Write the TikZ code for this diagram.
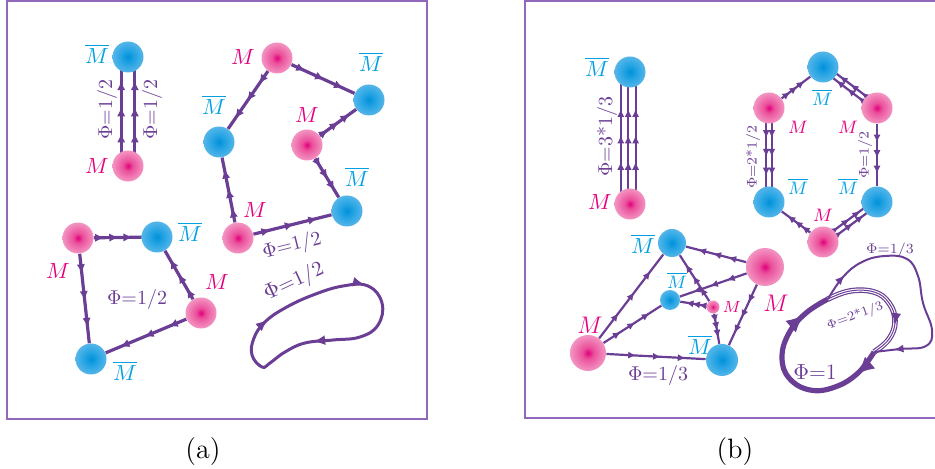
\documentclass[tikz,border=0pt]{standalone}
\usepackage{fontspec}
\usetikzlibrary{calc,arrows.meta,decorations.markings}

\definecolor{fluxc}{RGB}{106,62,148}
\definecolor{framec}{RGB}{146,104,188}
\definecolor{mcol}{RGB}{228,0,126}
\definecolor{mbcol}{RGB}{0,160,227}
\definecolor{pinkA}{RGB}{225,0,125}
\definecolor{pinkB}{RGB}{235,80,155}
\definecolor{pinkC}{RGB}{242,145,192}
\definecolor{pinkD}{RGB}{250,212,231}
\definecolor{blueA}{RGB}{0,145,218}
\definecolor{blueB}{RGB}{40,165,228}
\definecolor{blueC}{RGB}{110,190,235}
\definecolor{blueD}{RGB}{205,232,248}

\pgfdeclareradialshading{pinkball}{\pgfpoint{0bp}{0bp}}{color(0bp)=(pinkA); color(8bp)=(pinkB); color(24bp)=(pinkC); color(50bp)=(pinkD)}
\pgfdeclareradialshading{blueball}{\pgfpoint{0bp}{0bp}}{color(0bp)=(blueA); color(12bp)=(blueB); color(32bp)=(blueC); color(50bp)=(blueD)}

\pgfdeclarelayer{background}
\pgfsetlayers{background,main}

\tikzset{
  mball/.style={circle, inner sep=0pt, minimum size=#1, shading=pinkball},
  mball/.default=15.5pt,
  mbball/.style={circle, inner sep=0pt, minimum size=#1, shading=blueball},
  mbball/.default=15.5pt,
  mlab/.style={text=mcol, inner sep=0pt, font=\fontsize{#1}{#1}\selectfont},
  mlab/.default=11,
  mblab/.style={text=mbcol, inner sep=0pt, font=\fontsize{#1}{#1}\selectfont},
  mblab/.default=11,
  philab/.style={text=fluxc, inner sep=0pt, font=\fontsize{#1}{#1}\selectfont},
  philab/.default=10,
  caption/.style={font=\fontsize{14}{16}\selectfont},
  arrowat/.style={postaction={decorate, decoration={markings, mark=at position #1 with {\arrow{>}}}}},
  % strings of panel (a)
  fluxa/.style={draw=fluxc, line width=1.6pt, >={Latex[length=4.6pt,width=4.2pt]}, arrowat/.list={0.22,0.52,0.82}},
  fluxac/.style={draw=fluxc, line width=1.6pt, >={Latex[length=4.6pt,width=4.2pt]}, arrowat/.list={0.3,0.54,0.78}},
  % strings of panel (b)
  fluxb/.style={draw=fluxc, line width=1.1pt, >={Latex[length=4pt,width=3.6pt]}, arrowat/.list={0.3,0.55,0.8}},
  fluxbc/.style={draw=fluxc, line width=1.1pt, >={Latex[length=4pt,width=3.6pt]}, arrowat/.list={0.32,0.52,0.72}},
  % closed loops
  loopa/.style={draw=fluxc, line width=1.5pt, >={Latex[length=6pt,width=5pt]}, arrowat/.list={0.12,0.43,0.78}},
  loopthick/.style={draw=fluxc, line width=2.6pt, >={Latex[length=9pt,width=8pt]}, arrowat/.list={0.14,0.86}},
  loopthin/.style={draw=fluxc, line width=1pt, >={Latex[length=5pt,width=4pt]}, arrowat/.list={0.12,0.92}},
  looptriple/.style={draw=fluxc, line width=2.8pt, postaction={draw=white, line width=1.6pt},
    postaction={draw=fluxc, line width=0.5pt}, >={Latex[length=6pt,width=5pt]}, arrowat=0.72},
}

\begin{document}
\begin{tikzpicture}[x=0.5pt, y=-0.5pt]
\useasboundingbox (0,0) rectangle (935,469);

% panel frames and captions
\draw[framec, line width=0.9pt] (7,1) rectangle (427,419);
\draw[framec, line width=0.9pt] (525,1) rectangle (945,418);
\node[caption] (capa) at (203,452) {(a)};
\node[caption] (capb) at (735,452) {(b)};

% ===== panel (a) =====
% pair with two strings
\node[mbball] (a1mb) at (128,57) {};
\node[mball] (a1m) at (128,166) {};
\node[mblab] (a1mbl) at (97,54) {$\overline{M}$};
\node[mlab] (a1ml) at (97,166) {$M$};
\begin{pgfonlayer}{background}
  \foreach \dx in {-3.4pt,3.4pt}
    \draw[fluxac] ([xshift=\dx]a1m.center) -- ([xshift=\dx]a1mb.center);
\end{pgfonlayer}
\node[philab, rotate=90] (a1phi1) at (107,110) {$\Phi$=1/2};
\node[philab, rotate=90] (a1phi2) at (152,110) {$\Phi$=1/2};

% ring of six
\node[mball] (a2m1) at (277,58) {};
\node[mbball] (a2mb1) at (369,100) {};
\node[mbball] (a2mb2) at (219,142) {};
\node[mball] (a2m2) at (307,145) {};
\node[mbball] (a2mb3) at (347,211) {};
\node[mball] (a2m3) at (238,238) {};
\node[mlab] (a2m1l) at (243,57) {$M$};
\node[mblab] (a2mb1l) at (371,62) {$\overline{M}$};
\node[mblab] (a2mb2l) at (214,105) {$\overline{M}$};
\node[mlab] (a2m2l) at (307,115) {$M$};
\node[mblab] (a2mb3l) at (357,177) {$\overline{M}$};
\node[mlab] (a2m3l) at (255,210) {$M$};
\draw[fluxa] (a2m1) -- (a2mb1);
\draw[fluxa] (a2m1) -- (a2mb2);
\draw[fluxa] (a2m2) -- (a2mb1);
\draw[fluxa] (a2m2) -- (a2mb3);
\draw[fluxa] (a2m3) -- (a2mb2);
\draw[fluxa] (a2m3) -- (a2mb3);
\node[philab, rotate=14] (a2phi) at (292,246) {$\Phi$=1/2};

% ring of four
\node[mball] (a3m1) at (78,238) {};
\node[mbball] (a3mb1) at (157,237) {};
\node[mball] (a3m2) at (201,313) {};
\node[mbball] (a3mb2) at (91,359) {};
\node[mlab] (a3m1l) at (58,271) {$M$};
\node[mblab] (a3mb1l) at (190,232) {$\overline{M}$};
\node[mlab] (a3m2l) at (217,282) {$M$};
\node[mblab] (a3mb2l) at (125,371) {$\overline{M}$};
\draw[fluxa] (a3m1) -- (a3mb1);
\draw[fluxa] (a3m1) -- (a3mb2);
\draw[fluxa] (a3m2) -- (a3mb1);
\draw[fluxa] (a3m2) -- (a3mb2);
\node[philab] (a3phi) at (137,300) {$\Phi$=1/2};

% closed loop
\draw[loopa] plot[smooth cycle, tension=0.7] coordinates {(262,367) (252,355) (254,338) (265,322) (285,308) (313,295) (343,286) (368,286) (382,303) (378,325) (360,337) (333,340) (305,343) (285,352) (270,363)};
\node[philab=10.5, rotate=25] (a4phi) at (294,282) {$\Phi$=1/2};

% ===== panel (b) =====
% pair with three strings
\node[mbball] (b1mb) at (630,72) {};
\node[mball] (b1m) at (630,204) {};
\node[mblab=10.5] (b1mbl) at (597,67) {$\overline{M}$};
\node[mlab=10.5] (b1ml) at (600,202) {$M$};
\begin{pgfonlayer}{background}
  \foreach \dx in {-4.6pt,-0.9pt,2.8pt}
    \draw[fluxbc] ([xshift=\dx]b1m.center) -- ([xshift=\dx]b1mb.center);
\end{pgfonlayer}
\node[philab, rotate=90] (b1phi) at (607,137) {$\Phi$=3*1/3};

% hexagon
\node[mbball] (b2mb1) at (823,67) {};
\node[mball] (b2m1) at (769,108) {};
\node[mball] (b2m2) at (877,108) {};
\node[mbball] (b2mb2) at (769,202) {};
\node[mbball] (b2mb3) at (877,202) {};
\node[mball] (b2m3) at (823,242) {};
\node[mblab=9.5] (b2mb1l) at (822,97) {$\overline{M}$};
\node[mlab=9.5] (b2m1l) at (798,127) {$M$};
\node[mlab=9.5] (b2m2l) at (848,127) {$M$};
\node[mblab=9.5] (b2mb2l) at (798,186) {$\overline{M}$};
\node[mblab=9.5] (b2mb3l) at (848,186) {$\overline{M}$};
\node[mlab=9.5] (b2m3l) at (823,215) {$M$};
\draw[fluxb] (b2m1) -- (b2mb1);
\draw[fluxb] (b2m2) -- (b2mb3);
\draw[fluxb] (b2m3) -- (b2mb2);
\begin{pgfonlayer}{background}
  \foreach \s in {-1.4pt,1.4pt} {
    \draw[fluxbc] ($(b2m2)!\s!90:(b2mb1)$) -- ($(b2mb1)!\s!-90:(b2m2)$);
    \draw[fluxbc] ($(b2m3)!\s!90:(b2mb3)$) -- ($(b2mb3)!\s!-90:(b2m3)$);
    \draw[fluxbc] ([xshift=\s]b2m1.center) -- ([xshift=\s]b2mb2.center);
  }
\end{pgfonlayer}
\node[philab=7, rotate=90] (b2phi1) at (753,157) {$\Phi$=2*1/2};
\node[philab=7, rotate=90] (b2phi2) at (865,155) {$\Phi$=1/2};

% cluster of six
\node[mbball=14pt] (b3mb1) at (672,243) {};
\node[mbball=10pt] (b3mb2) at (670,300) {};
\node[mball=6.5pt] (b3ms) at (713,307) {};
\node[mball=18pt] (b3m1) at (588,353) {};
\node[mbball=16pt] (b3mb3) at (722,360) {};
\node[mball=19pt] (b3m2) at (765,267) {};
\node[mblab=10.5] (b3mb1l) at (643,244) {$\overline{M}$};
\node[mblab=9] (b3mb2l) at (677,280) {$\overline{M}$};
\node[mlab=8] (b3msl) at (732,307) {$M$};
\node[mlab=12.5] (b3m1l) at (590,325) {$M$};
\node[mblab=10.5] (b3mb3l) at (700,345) {$\overline{M}$};
\node[mlab=12.5] (b3m2l) at (776,303) {$M$};
\draw[fluxb] (b3m1) -- (b3mb1);
\draw[fluxb] (b3m1) -- (b3mb2);
\draw[fluxb] (b3m1) -- (b3mb3);
\draw[fluxb] (b3m2) -- (b3mb1);
\draw[fluxb] (b3m2) -- (b3mb2);
\draw[fluxb] (b3m2) -- (b3mb3);
\draw[fluxb] (b3ms) -- (b3mb1);
\draw[fluxb] (b3ms) -- (b3mb2);
\draw[fluxb] (b3ms) -- (b3mb3);
\node[philab] (b3phi) at (658,375) {$\Phi$=1/3};

% loop that splits and joins again
\coordinate (bsplit) at (828,299);
\coordinate (bjoin) at (874,352);
\draw[loopthick] plot[smooth, tension=0.7] coordinates {(bjoin) (858,373) (835,387) (810,390) (789,378) (782,357) (789,333) (806,313) (bsplit)};
\draw[looptriple] plot[smooth, tension=0.7] coordinates {(bsplit) (850,291) (874,292) (889,303) (895,321) (889,339) (bjoin)};
\draw[loopthin] plot[smooth, tension=0.7] coordinates {(bsplit) (843,277) (862,262) (885,256) (907,259) (918,276) (923,303) (932,330) (926,346) (900,349) (bjoin)};
\node[philab=7] (b4phi1) at (890,250) {$\Phi$=1/3};
\node[philab=6.5, rotate=20] (b4phi2) at (855,316) {$\Phi$=2*1/3};
\node[philab=11] (b4phi3) at (815,372) {$\Phi$=1};
\end{tikzpicture}
\end{document}
